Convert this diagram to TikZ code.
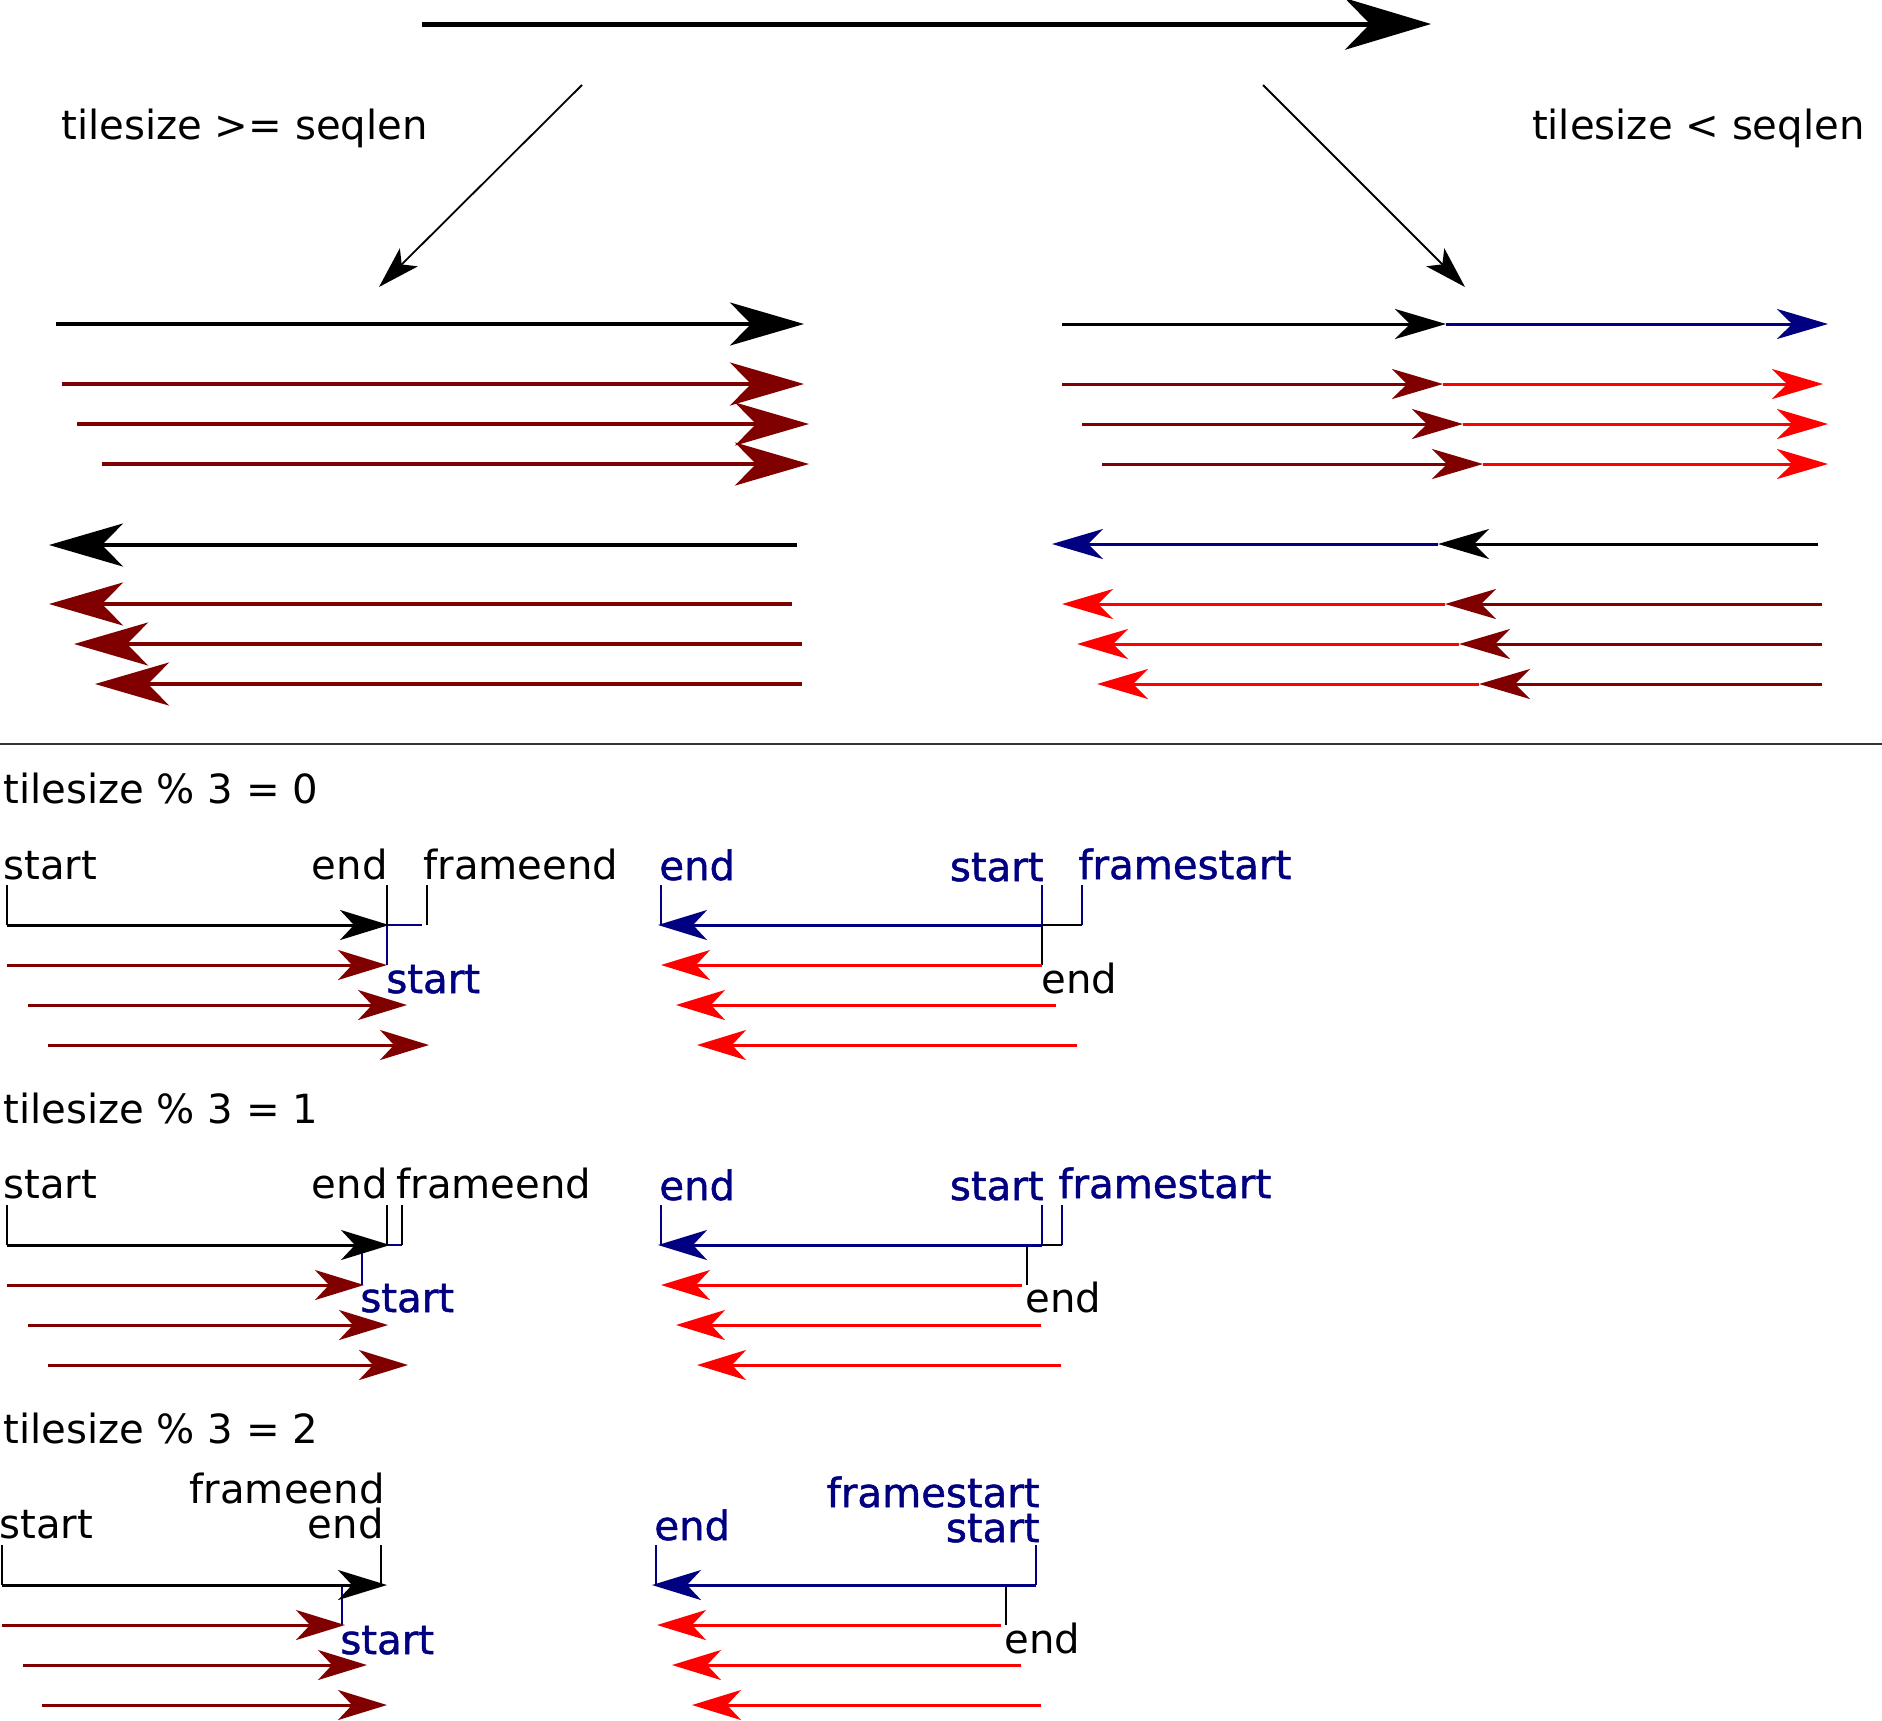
\documentclass[tikz,border=0pt]{standalone}
\usepackage{fontspec}
\setmainfont{DejaVu Sans}
\newfontfamily\navyfont{DejaVu Sans}[FakeBold=1.2]
\usepackage{tikz}
\usetikzlibrary{calc,arrows.meta,positioning}
\definecolor{frameRed}{RGB}{128,0,0}
\definecolor{nextRed}{RGB}{255,0,0}
\definecolor{frameBlue}{RGB}{0,0,128}

\begin{document}
\begin{tikzpicture}[x=0.5pt,y=-0.5pt,
  lbl/.style={inner sep=0pt,font=\fontsize{20.1}{24}\selectfont},
  blbl/.style={inner sep=0pt,font=\fontsize{20.1}{24}\navyfont,text=frameBlue},
  toptip/.style={-{Stealth[length=43pt,width=25.7pt,inset=12.5pt]},line width=2.5pt},
  diagtip/.style={-{Stealth[length=21pt,width=12.7pt,inset=5pt]},line width=0.9pt},
  bigtip/.style={-{Stealth[length=37pt,width=21.5pt,inset=10.5pt]},line width=2pt},
  midtip/.style={-{Stealth[length=25.5pt,width=15pt,inset=7.5pt]},line width=1.5pt},
  smalltip/.style={-{Stealth[length=24.5pt,width=15pt,inset=7pt]},line width=1.5pt},
  tickline/.style={line width=0.8pt}]
\useasboundingbox (0,0) rectangle (1882,1720);

% split of the sequence
\draw[toptip] (422,24) -- (1431,24);
\coordinate (splitL) at (582,85);
\coordinate (caseL) at (379,287);
\coordinate (splitR) at (1263,85);
\coordinate (caseR) at (1465,287);
\draw[diagtip] (splitL) -- (caseL);
\draw[diagtip] (splitR) -- (caseR);
\node[lbl,anchor=base west] (geq) at (61,139) {tilesize >= seqlen};
\node[lbl,anchor=base east] (less) at (1865,139) {tilesize < seqlen};

% tilesize >= seqlen
\draw[bigtip] (56,324) -- (804,324);
\draw[bigtip,frameRed] (62,384) -- (804,384);
\draw[bigtip,frameRed] (77,424) -- (809,424);
\draw[bigtip,frameRed] (102,464) -- (809,464);
\draw[bigtip] (797,545) -- (49,545);
\draw[bigtip,frameRed] (792,604) -- (49,604);
\draw[bigtip,frameRed] (802,644) -- (74,644);
\draw[bigtip,frameRed] (802,684) -- (95,684);

% tilesize < seqlen
\draw[midtip,frameBlue] (1446,324) -- (1828,324);
\draw[midtip] (1062,324) -- (1446,324);
\draw[midtip,nextRed] (1443,384) -- (1823,384);
\draw[midtip,frameRed] (1062,384) -- (1443,384);
\draw[midtip,nextRed] (1463,424) -- (1828,424);
\draw[midtip,frameRed] (1082,424) -- (1463,424);
\draw[midtip,nextRed] (1483,464) -- (1828,464);
\draw[midtip,frameRed] (1102,464) -- (1483,464);
\draw[midtip,frameBlue] (1438,544) -- (1052,544);
\draw[midtip] (1818,544) -- (1438,544);
\draw[midtip,nextRed] (1445,604) -- (1062,604);
\draw[midtip,frameRed] (1822,604) -- (1445,604);
\draw[midtip,nextRed] (1459,644) -- (1077,644);
\draw[midtip,frameRed] (1822,644) -- (1459,644);
\draw[midtip,nextRed] (1479,684) -- (1097,684);
\draw[midtip,frameRed] (1822,684) -- (1479,684);

\draw[line width=0.7pt,black!80] (0,744) -- (1882,744);

% tilesize % 3 = 0
\node[lbl,anchor=base west] (modA) at (3,803) {tilesize \% 3 = 0};
\node[lbl,anchor=base west] (fwdStartA) at (3,879) {start};
\node[lbl,anchor=base east] (fwdEndA) at (388,879) {end};
\node[lbl,anchor=base west] (fwdFrameA) at (423,879) {frameend};
\node[blbl,anchor=base west] (fwdNextA) at (386,993) {start};
\draw[tickline] (6.7,885) -- (6.7,925);
\draw[tickline,frameBlue] (388,925) -- (422,925);
\draw[tickline] (387,885) -- (387,925);
\draw[tickline,frameBlue] (387,925) -- (387,965);
\draw[tickline] (427,885) -- (427,925);
\draw[smalltip] (6.7,925) -- (389,925);
\draw[smalltip,frameRed] (6.7,965) -- (387,965);
\draw[smalltip,frameRed] (27.5,1005) -- (407,1005);
\draw[smalltip,frameRed] (47.5,1045) -- (429,1045);

\node[blbl,anchor=base west] (bwdEndA) at (659,880) {end};
\node[blbl,anchor=base east] (bwdStartA) at (1044,881) {start};
\node[blbl,anchor=base west] (bwdFrameA) at (1078,879) {framestart};
\node[lbl,anchor=base west] (bwdNextA) at (1041,993) {end};
\draw[tickline,frameBlue] (661,885) -- (661,925);
\draw[tickline] (1042,925) -- (1082,925);
\draw[tickline,frameBlue] (1042,885) -- (1042,925);
\draw[tickline] (1042,925) -- (1042,965);
\draw[tickline,frameBlue] (1082,885) -- (1082,925);
\draw[smalltip,frameBlue] (1042,925) -- (658,925);
\draw[smalltip,nextRed] (1042,965) -- (661,965);
\draw[smalltip,nextRed] (1056,1005) -- (676,1005);
\draw[smalltip,nextRed] (1077,1045) -- (697,1045);

% tilesize % 3 = 1
\node[lbl,anchor=base west] (modB) at (3,1123) {tilesize \% 3 = 1};
\node[lbl,anchor=base west] (fwdStartB) at (3,1198) {start};
\node[lbl,anchor=base east] (fwdEndB) at (388,1198) {end};
\node[lbl,anchor=base west] (fwdFrameB) at (396,1198) {frameend};
\node[blbl,anchor=base west] (fwdNextB) at (360,1312) {start};
\draw[tickline] (6.7,1205) -- (6.7,1245);
\draw[tickline,frameBlue] (387,1245) -- (402,1245);
\draw[tickline] (387,1205) -- (387,1245);
\draw[tickline] (402,1205) -- (402,1245);
\draw[tickline,frameBlue] (362,1245) -- (362,1285);
\draw[smalltip] (6.7,1245) -- (390,1245);
\draw[smalltip,frameRed] (6.7,1285) -- (364,1285);
\draw[smalltip,frameRed] (27.5,1325) -- (388,1325);
\draw[smalltip,frameRed] (47.5,1365) -- (408,1365);

\node[blbl,anchor=base west] (bwdEndB) at (659,1200) {end};
\node[blbl,anchor=base east] (bwdStartB) at (1044,1200) {start};
\node[blbl,anchor=base west] (bwdFrameB) at (1058,1198) {framestart};
\node[lbl,anchor=base west] (bwdNextB) at (1025,1312) {end};
\draw[tickline,frameBlue] (661,1205) -- (661,1245);
\draw[tickline] (1042,1245) -- (1062,1245);
\draw[tickline,frameBlue] (1042,1205) -- (1042,1245);
\draw[tickline,frameBlue] (1062,1205) -- (1062,1245);
\draw[tickline] (1027,1245) -- (1027,1285);
\draw[smalltip,frameBlue] (1042,1245) -- (658,1245);
\draw[smalltip,nextRed] (1022,1285) -- (661,1285);
\draw[smalltip,nextRed] (1041,1325) -- (676,1325);
\draw[smalltip,nextRed] (1061,1365) -- (697,1365);

% tilesize % 3 = 2
\node[lbl,anchor=base west] (modC) at (3,1443) {tilesize \% 3 = 2};
\node[lbl,anchor=base east] (fwdFrameC) at (385,1503) {frameend};
\node[lbl,anchor=base west] (fwdStartC) at (-1,1538) {start};
\node[lbl,anchor=base east] (fwdEndC) at (384,1538) {end};
\node[blbl,anchor=base west] (fwdNextC) at (340,1654) {start};
\draw[tickline] (1.7,1545) -- (1.7,1585);
\draw[tickline] (381,1545) -- (381,1585);
\draw[tickline,frameBlue] (342,1585) -- (342,1625);
\draw[smalltip] (1.7,1585) -- (387,1585);
\draw[smalltip,frameRed] (1.7,1625) -- (345,1625);
\draw[smalltip,frameRed] (22.5,1665) -- (367,1665);
\draw[smalltip,frameRed] (41.7,1705) -- (387,1705);

\node[blbl,anchor=base east] (bwdFrameC) at (1040,1507) {framestart};
\node[blbl,anchor=base east] (bwdStartC) at (1040,1542) {start};
\node[blbl,anchor=base west] (bwdEndC) at (654,1540) {end};
\node[lbl,anchor=base west] (bwdNextC) at (1004,1653) {end};
\draw[tickline,frameBlue] (656,1545) -- (656,1585);
\draw[tickline,frameBlue] (1036,1545) -- (1036,1585);
\draw[tickline] (1006,1585) -- (1006,1625);
\draw[smalltip,frameBlue] (1036,1585) -- (652,1585);
\draw[smalltip,nextRed] (1001,1625) -- (657,1625);
\draw[smalltip,nextRed] (1021,1665) -- (672,1665);
\draw[smalltip,nextRed] (1041,1705) -- (692,1705);
\end{tikzpicture}
\end{document}
